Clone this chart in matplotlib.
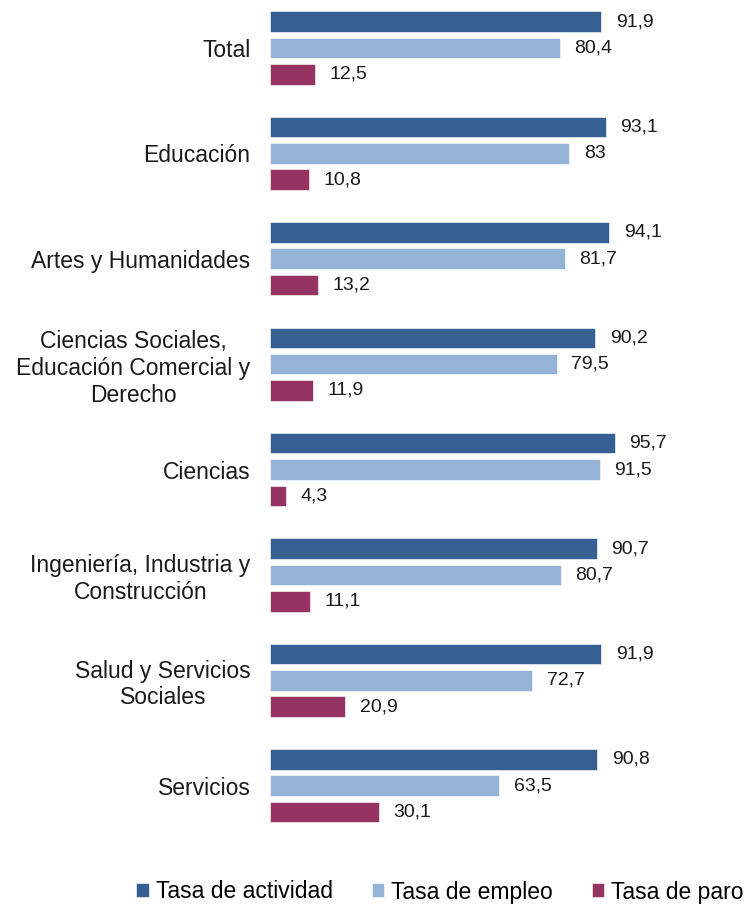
import numpy as np
import matplotlib
matplotlib.use('Agg')
import matplotlib.pyplot as plt

categories = ['Total', 'Educación', 'Artes y Humanidades',
              'Ciencias Sociales,\nEducación Comercial y\nDerecho',
              'Ciencias', 'Ingeniería, Industria y\nConstrucción',
              'Salud y Servicios\nSociales', 'Servicios']
tasa_actividad = [91.9, 93.1, 94.1, 90.2, 95.7, 90.7, 91.9, 90.8]
tasa_empleo = [80.4, 83, 81.7, 79.5, 91.5, 80.7, 72.7, 63.5]
tasa_paro = [12.5, 10.8, 13.2, 11.9, 4.3, 11.1, 20.9, 30.1]
series_names = ['Tasa de actividad', 'Tasa de empleo', 'Tasa de paro']
colors = ['#376092', '#95B3D7', '#953462']

plt.rcParams['font.family'] = ['Liberation Sans', 'DejaVu Sans']

fig = plt.figure(figsize=(7.44, 9.08), dpi=100)
ax = fig.add_axes([270 / 744, 68 / 908, 360.5 / 744, 840 / 908])

centers = np.arange(len(categories)) * 4
series = [tasa_actividad, tasa_empleo, tasa_paro]
for j, (vals, name, col) in enumerate(zip(series, series_names, colors)):
    bars = ax.barh(centers + (j - 1), vals, height=0.78, color=col,
                   edgecolor='white', linewidth=0.4, label=name)
    ax.bar_label(bars, labels=[f'{v:g}'.replace('.', ',') for v in vals],
                 padding=10.5, fontsize=14, color='#1a1a1a')

ax.set_xlim(0, 100)
ax.set_ylim(30.06, -1.82)
ax.set_yticks(centers)
ax.set_yticklabels(categories, fontsize=16.5, multialignment='center',
                   linespacing=1.2, color='#1a1a1a')
ax.tick_params(axis='y', length=0, pad=14)
ax.set_xticks([])
for s in ax.spines.values():
    s.set_visible(False)

fig.legend(loc='center', bbox_to_anchor=(440 / 744, 1 - 892 / 908), ncol=3,
           frameon=False, fontsize=16.5, handlelength=0.55, handleheight=0.55,
           handletextpad=0.3, columnspacing=1.7, borderaxespad=0)

plt.savefig('out.png', dpi=100)
